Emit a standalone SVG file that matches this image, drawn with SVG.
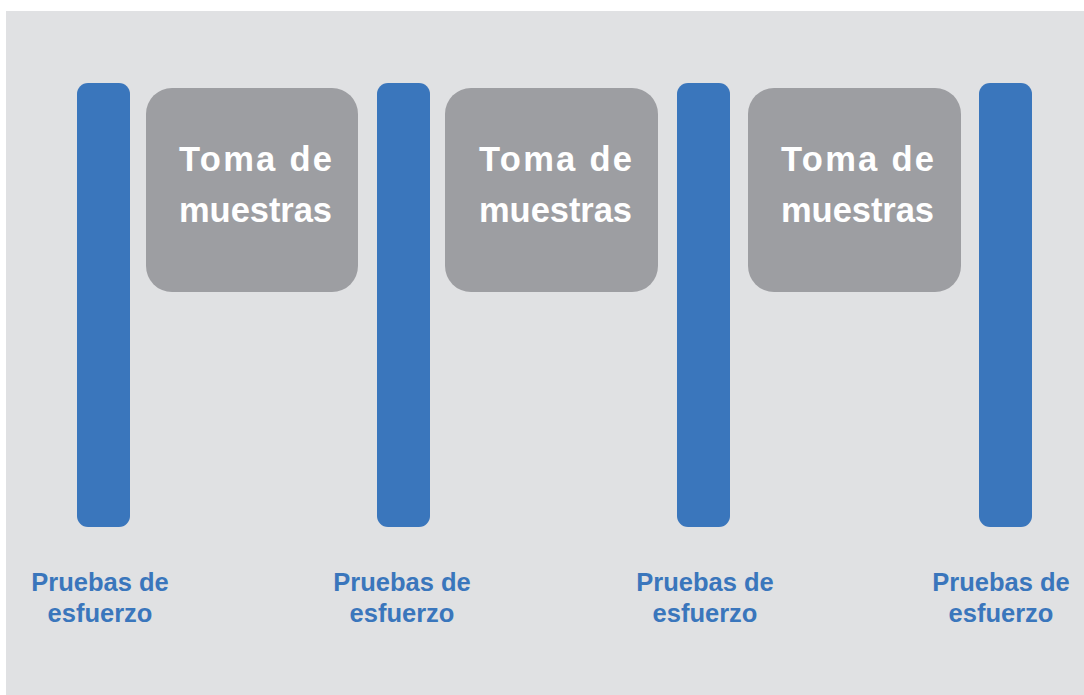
<svg xmlns="http://www.w3.org/2000/svg" width="1084" height="695" viewBox="0 0 1084 695">
<style>
.bg{fill:#e0e1e3}
.bar{fill:#3a76bc}
.box{fill:#9d9ea2}
.t{font-family:"Liberation Sans",Arial,sans-serif;font-weight:bold;font-size:34.5px;fill:#ffffff}
.l{font-family:"Liberation Sans",Arial,sans-serif;font-weight:bold;font-size:25.5px;fill:#3a76bc;text-anchor:middle}
</style>
<rect x="0" y="0" width="1084" height="695" fill="#ffffff"/>
<rect class="bg" x="6" y="11" width="1078" height="684"/>
<g id="bar1"><rect class="bar" x="77" y="83" width="53" height="444" rx="11"/></g>
<g id="bar2"><rect class="bar" x="377" y="83" width="53" height="444" rx="11"/></g>
<g id="bar3"><rect class="bar" x="677" y="83" width="53" height="444" rx="11"/></g>
<g id="bar4"><rect class="bar" x="979" y="83" width="53" height="444" rx="11"/></g>
<g id="box1"><rect class="box" x="146" y="88" width="212" height="204" rx="26"/>
<text class="t" x="179" y="171" textLength="153" lengthAdjust="spacing">Toma de</text>
<text class="t" x="179" y="222" textLength="153" lengthAdjust="spacing">muestras</text></g>
<g id="box2"><rect class="box" x="445" y="88" width="213" height="204" rx="26"/>
<text class="t" x="479" y="171" textLength="153" lengthAdjust="spacing">Toma de</text>
<text class="t" x="479" y="222" textLength="153" lengthAdjust="spacing">muestras</text></g>
<g id="box3"><rect class="box" x="748" y="88" width="213" height="204" rx="26"/>
<text class="t" x="781" y="171" textLength="153" lengthAdjust="spacing">Toma de</text>
<text class="t" x="781" y="222" textLength="153" lengthAdjust="spacing">muestras</text></g>
<g id="label1"><text class="l" x="100" y="591">Pruebas de</text><text class="l" x="100" y="622">esfuerzo</text></g>
<g id="label2"><text class="l" x="402" y="591">Pruebas de</text><text class="l" x="402" y="622">esfuerzo</text></g>
<g id="label3"><text class="l" x="705" y="591">Pruebas de</text><text class="l" x="705" y="622">esfuerzo</text></g>
<g id="label4"><text class="l" x="1001" y="591">Pruebas de</text><text class="l" x="1001" y="622">esfuerzo</text></g>
<g id="connectors"></g>
</svg>
